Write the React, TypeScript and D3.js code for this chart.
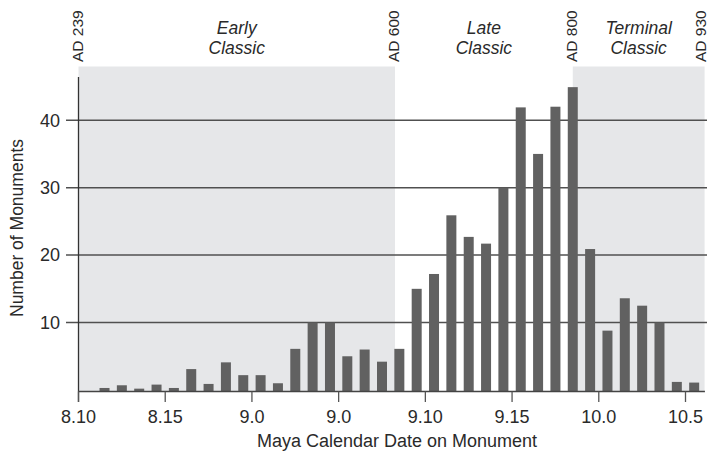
import React from "react";
import * as d3 from "d3";

// Katun positions: 8.10 = 0, one unit per katun
const tickLabels = ["8.10", "8.15", "9.0", "9.0", "9.10", "9.15", "10.0", "10.5"];
const tickPositions = [0, 5, 10, 15, 20, 25, 30, 35];

// Monument counts per katun (bar k centered at k + 0.5)
const barPositions = [
  1, 2, 3, 4, 5, 6, 7, 8, 9, 10, 11, 12, 13, 14, 15, 16, 17, 18,
  19, 20, 21, 22, 23, 24, 25, 26, 27, 28, 29, 30, 31, 32, 33, 34, 35,
];
const barValues = [
  0.3, 0.7, 0.2, 0.8, 0.3, 3.1, 0.9, 4.1, 2.2, 2.2, 1.0, 6.1, 10, 10, 5.0, 6.0, 4.2, 6.1,
  15.0, 17.2, 25.9, 22.7, 21.7, 30.0, 41.9, 35.0, 42.0, 44.9, 20.9, 8.8, 13.6, 12.5, 10.0, 1.2, 1.1,
];

const yTicks = [10, 20, 30, 40];

// Period boundaries (katun units) and labels
const boundaryPositions = [0, 18.25, 28.5, 36.1];
const boundaryLabels = ["AD 239", "AD 600", "AD 800", "AD 930"];
const periodNames = [["Early", "Classic"], ["Late", "Classic"], ["Terminal", "Classic"]];
const periodShaded = [true, false, true];

export default function App() {
  const W = 710;
  const H = 452;
  const x = d3.scaleLinear().domain([0, 35]).range([78.5, 685.5]);
  const y = d3.scaleLinear().domain([0, 40]).range([390, 120.2]);
  const barW = 10;
  const baseY = 391.5;
  const plotTop = 66.5;
  const xEnd = x(36.12);
  const font = "'Liberation Sans', Arial, Helvetica, sans-serif";
  const textColor = "#2a2a2a";

  return (
    <svg
      width={W}
      height={H}
      style={{ position: "absolute", left: 0, top: 0, background: "#fff" }}
      fontFamily={font}
    >
      {/* period shading */}
      {periodShaded.map((s, i) =>
        s ? (
          <rect
            key={"p" + i}
            x={x(boundaryPositions[i])}
            y={plotTop}
            width={x(boundaryPositions[i + 1]) - x(boundaryPositions[i])}
            height={baseY - plotTop}
            fill="#e6e7e9"
          />
        ) : null
      )}

      {/* gridlines and y ticks */}
      {yTicks.map((t) => (
        <g key={"y" + t}>
          <line x1={66} x2={707} y1={y(t)} y2={y(t)} stroke="#505050" strokeWidth={1.5} />
          <text
            x={60}
            y={y(t)}
            dy="0.35em"
            textAnchor="end"
            fontSize={18}
            fill={textColor}
          >
            {t}
          </text>
        </g>
      ))}

      {/* bars */}
      {barValues.map((v, i) => {
        const cx = x(barPositions[i] + 0.5);
        return (
          <rect
            key={"b" + i}
            x={cx - barW / 2}
            y={y(v)}
            width={barW}
            height={baseY - y(v)}
            fill="#616161"
          />
        );
      })}

      {/* axes */}
      <line x1={78.5} x2={78.5} y1={77} y2={402} stroke="#333" strokeWidth={1.3} />
      <line x1={78} x2={xEnd} y1={baseY} y2={baseY} stroke="#444" strokeWidth={1.5} />
      {tickPositions.map((p, i) => (
        <g key={"t" + i}>
          <line x1={x(p)} x2={x(p)} y1={baseY} y2={402} stroke="#555" strokeWidth={1.3} />
          <text x={x(p)} y={423} textAnchor="middle" fontSize={18} fill={textColor}>
            {tickLabels[i]}
          </text>
        </g>
      ))}

      {/* boundary labels */}
      {boundaryPositions.map((p, i) => (
        <text
          key={"a" + i}
          transform={`translate(${Math.min(x(p) + 4, W - 4.5)},62) rotate(-90)`}
          fontSize={15.5}
          fill={textColor}
        >
          {boundaryLabels[i]}
        </text>
      ))}

      {/* period names */}
      {periodNames.map((lines, i) => {
        const cx = (x(boundaryPositions[i]) + x(boundaryPositions[i + 1])) / 2;
        return (
          <text
            key={"n" + i}
            x={cx}
            textAnchor="middle"
            fontSize={17.5}
            fontStyle="italic"
            fill={textColor}
          >
            <tspan x={cx} y={34}>{lines[0]}</tspan>
            <tspan x={cx} y={53.5}>{lines[1]}</tspan>
          </text>
        );
      })}

      {/* axis titles */}
      <text x={397} y={447} textAnchor="middle" fontSize={18} fill={textColor}>
        Maya Calendar Date on Monument
      </text>
      <text
        transform={`translate(23,228) rotate(-90)`}
        textAnchor="middle"
        fontSize={17.5}
        fill={textColor}
      >
        Number of Monuments
      </text>
    </svg>
  );
}
